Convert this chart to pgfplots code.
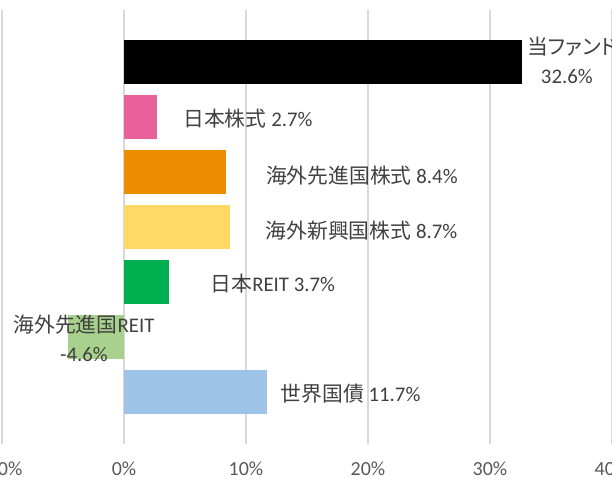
\documentclass[border=0pt]{standalone}
\usepackage{pgfplots}
\pgfplotsset{compat=1.18}
\usepackage{fontspec}
\setmainfont{Carlito}
\newfontfamily\cjk{Noto Sans CJK JP}
\newfontfamily\cjkp[RawFeature=+palt]{Noto Sans CJK JP}
\definecolor{txt}{HTML}{404040}
\definecolor{tick}{HTML}{595959}
\definecolor{gridc}{HTML}{D9D9D9}
\definecolor{cpink}{HTML}{E8619A}
\definecolor{corange}{HTML}{EE8C00}
\definecolor{cyellow}{HTML}{FFD966}
\definecolor{cgreen}{HTML}{00B050}
\definecolor{clgreen}{HTML}{A9D18E}
\definecolor{cblue}{HTML}{9DC3E6}
\begin{document}
\begin{tikzpicture}
\begin{axis}[
  at={(0,0)}, anchor=south west,
  scale only axis,
  width=610bp, height=434bp,
  xmin=-10, xmax=40,
  ymin=-0.945, ymax=6.945,
  y dir=reverse,
  xbar, bar width=44bp, bar shift=0pt,
  xtick={-10,0,10,20,30,40},
  xticklabel={\pgfmathprintnumber{\tick}\%},
  /pgf/number format/assume math mode=true,
  xticklabel style={font=\fontsize{20bp}{24bp}\selectfont, text=tick, yshift=-14bp},
  ytick=\empty,
  xmajorgrids,
  grid style={gridc, line width=1.5bp},
  major tick length=0pt,
  axis line style={draw=none},
  clip=false,
]
\addplot[fill=black, draw=none] coordinates {(32.6,0)};
\addplot[fill=cpink, draw=none] coordinates {(2.7,1)};
\addplot[fill=corange, draw=none] coordinates {(8.4,2)};
\addplot[fill=cyellow, draw=none] coordinates {(8.7,3)};
\addplot[fill=cgreen, draw=none] coordinates {(3.7,4)};
\addplot[fill=clgreen, draw=none] coordinates {(-4.6,5)};
\addplot[fill=cblue, draw=none] coordinates {(11.7,6)};
\begin{scope}[every node/.style={font=\fontsize{20.8bp}{29bp}\selectfont, text=txt, inner sep=0pt}]
\node[anchor=west] at (axis cs:33.05,-0.28) {\cjkp 当ファンド};
\node at (axis cs:36.3,0.27) {32.6\%};
\node at (axis cs:10.16,1.03) {{\cjk 日本株式} 2.7\%};
\node at (axis cs:19.5,2.06) {{\cjk 海外先進国株式} 8.4\%};
\node at (axis cs:19.47,3.06) {{\cjk 海外新興国株式} 8.7\%};
\node at (axis cs:12.2,4.03) {{\cjk 日本}REIT 3.7\%};
\node[align=center] at (axis cs:-3.28,5.03) {{\cjk 海外先進国}REIT\\-4.6\%};
\node at (axis cs:18.57,6.03) {{\cjk 世界国債} 11.7\%};
\end{scope}
\end{axis}
\pgfresetboundingbox
\path[use as bounding box] (-2bp,-39bp) rectangle (610bp,444bp);
\end{tikzpicture}
\end{document}
